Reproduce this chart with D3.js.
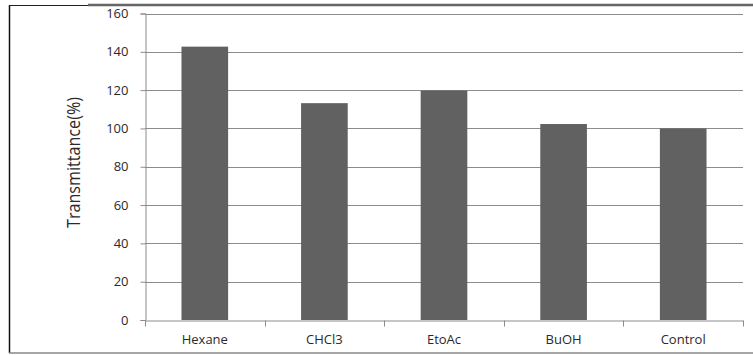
<!DOCTYPE html>
<html>
<head>
<meta charset="utf-8">
<script src="https://cdn.jsdelivr.net/npm/d3@7"></script>
<style>
  html, body { margin: 0; padding: 0; background: #fff; }
  svg { display: block; }
</style>
</head>
<body>
<svg id="chart" width="753" height="355"></svg>
<script>
// Extract transmittance by solvent fraction
const categories = ["Hexane", "CHCl3", "EtoAc", "BuOH", "Control"];
const transmittance = [142.7, 113.2, 119.8, 102.3, 100];
const yTicks = [0, 20, 40, 60, 80, 100, 120, 140, 160];

const svg = d3.select("#chart");
const W = 753, H = 355;
const plot = { left: 145, right: 743, top: 13.5, bottom: 320 };
const font = "'Open Sans', 'DejaVu Sans', sans-serif";

// Frame around the chart
svg.append("line").attr("x1", 9.5).attr("x2", 9.5).attr("y1", 5).attr("y2", 353)
  .attr("stroke", "#111").attr("stroke-width", 1.5);
svg.append("line").attr("x1", 9).attr("x2", 88).attr("y1", 5.5).attr("y2", 5.5)
  .attr("stroke", "#222").attr("stroke-width", 1.2);
svg.append("line").attr("x1", 88).attr("x2", W).attr("y1", 5).attr("y2", 5)
  .attr("stroke", "#666").attr("stroke-width", 2.5);
svg.append("line").attr("x1", 9).attr("x2", W).attr("y1", 353).attr("y2", 353)
  .attr("stroke", "#888").attr("stroke-width", 1.5);

const x = d3.scaleBand().domain(categories).range([plot.left, plot.right])
  .paddingInner(0.61).paddingOuter(0.305);
const y = d3.scaleLinear().domain([0, 160]).range([plot.bottom, plot.top]);

// Horizontal gridlines
svg.append("g").selectAll("line").data(yTicks.filter(d => d > 0)).join("line")
  .attr("x1", plot.left).attr("x2", plot.right)
  .attr("y1", d => Math.round(y(d)) + 0.5).attr("y2", d => Math.round(y(d)) + 0.5)
  .attr("stroke", "#8c8c8c").attr("stroke-width", 1);

// Bars
svg.append("g").selectAll("rect").data(categories).join("rect")
  .attr("x", d => x(d))
  .attr("width", x.bandwidth())
  .attr("y", (d, i) => y(transmittance[i]))
  .attr("height", (d, i) => y(0) - y(transmittance[i]))
  .attr("fill", "#616161");

// Y axis
const yAxis = svg.append("g").attr("transform", `translate(${plot.left + 0.5},0)`)
  .call(d3.axisLeft(y).tickValues(yTicks).tickSize(5).tickPadding(12));
yAxis.select(".domain").attr("stroke", "#8c8c8c");
yAxis.selectAll(".tick line").attr("stroke", "#8c8c8c");
yAxis.selectAll(".tick text").attr("fill", "#2a2a2a").style("font-family", font).style("font-size", "13px");

// X axis with tick marks at band boundaries
const xAxisG = svg.append("g").attr("transform", `translate(0,${Math.round(plot.bottom) + 0.5})`);
const xAxis = d3.axisBottom(x).tickSize(0).tickPadding(14);
xAxisG.call(xAxis);
xAxisG.select(".domain").attr("stroke", "#8c8c8c");
xAxisG.selectAll(".tick text").attr("fill", "#2a2a2a").style("font-family", font).style("font-size", "13px");
const step = x.step();
const bounds = d3.range(categories.length + 1).map(i => plot.left + i * step);
xAxisG.selectAll(".bound").data(bounds).join("line").attr("class", "bound")
  .attr("x1", d => Math.round(d) + 0.5).attr("x2", d => Math.round(d) + 0.5)
  .attr("y1", 0).attr("y2", 6).attr("stroke", "#8c8c8c");

// Y axis title
svg.append("text")
  .attr("transform", `translate(80,${(97 + 228) / 2}) rotate(-90)`)
  .attr("text-anchor", "middle")
  .attr("fill", "#2a2a2a")
  .attr("textLength", 131)
  .attr("lengthAdjust", "spacingAndGlyphs")
  .style("font-family", font)
  .style("font-size", "19px")
  .text("Transmittance(%)");
</script>
</body>
</html>
